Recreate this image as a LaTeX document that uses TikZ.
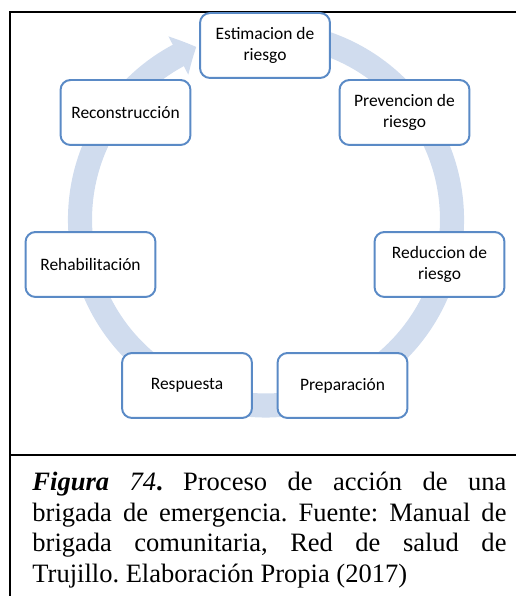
\documentclass[tikz,border=0pt]{standalone}
\usepackage{fontspec}
\setmainfont{Liberation Serif}
\newfontfamily\boxfont{Carlito}
\usetikzlibrary{arrows.meta,bending}
\definecolor{Ring}{HTML}{D0DCEE}
\definecolor{Edge}{HTML}{5A8AC6}
\frenchspacing

\begin{document}
\begin{tikzpicture}[x=0.4525pt,y=0.4525pt,
  stage/.style={draw=Edge,line width=0.9pt,rounded corners=4.5pt,fill=white,
    minimum width=58.8pt,minimum height=29.4pt,inner sep=1pt,align=center,
    font=\boxfont\fontsize{7.9}{9.2}\selectfont},
  ring/.style={Ring,line width=10.9pt,-{Triangle[length=9pt,width=19pt,bend]}},
  frame/.style={line width=0.9pt,black},
  caption/.style={anchor=north west,inner sep=0pt,text width=214.5pt,align=justify,
    font=\fontsize{12}{13.9}\selectfont}]
  \useasboundingbox (0,0) rectangle (516,596);
  % frame
  \draw[frame] (516,584) -- (10,584) -- (10,0);
  \draw[frame] (10,141) -- (516,141);
  % cycle arrow behind the boxes
  \draw[ring] (266,376.5) ++(95:186) arc[start angle=95,end angle=-248,radius=186];
  \node[stage] (est)  at (265,550.5)   {Estimacion de\\riesgo};
  \node[stage] (prev) at (404.5,483.5) {Prevencion de\\riesgo};
  \node[stage] (red)  at (439.5,331.5) {Reduccion de\\riesgo};
  \node[stage] (prep) at (342.5,210.5) {Preparación};
  \node[stage] (resp) at (187,210.5)   {Respuesta};
  \node[stage] (reh)  at (90.5,331.5)  {Rehabilitación};
  \node[stage] (rec)  at (125.5,483.5) {Reconstrucción};
  % caption
  \node[caption] (cap) at (32,127.5) {\strut\textbf{\textit{Figura}} \textit{74}\textbf{.}
    Proceso de acción de una\linebreak brigada de emergencia. Fuente: Manual de\linebreak
    brigada comunitaria, Red de salud de\linebreak Trujillo. Elaboración Propia (2017)};
\end{tikzpicture}
\end{document}
